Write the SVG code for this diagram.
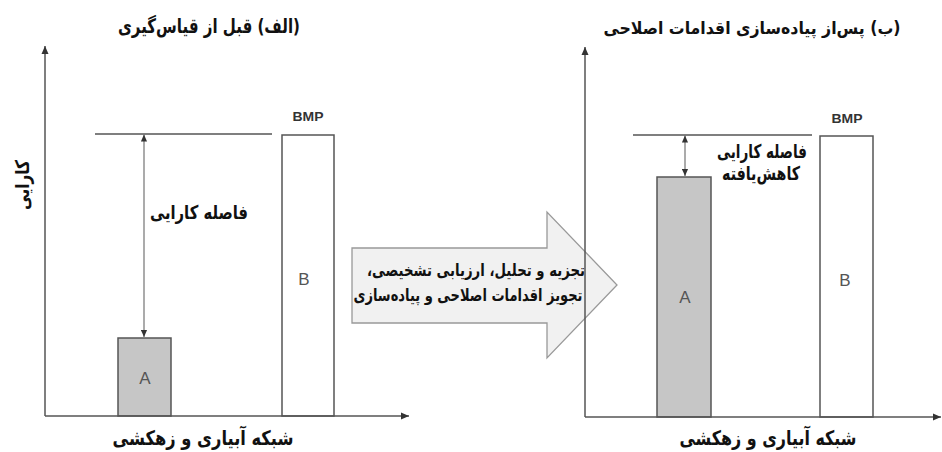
<svg xmlns="http://www.w3.org/2000/svg" width="942" height="452" viewBox="0 0 942 452">
  <style>
    .axis { stroke: #555; stroke-width: 1.5; fill: none; }
    .ref { stroke: #555; stroke-width: 1.3; fill: none; }
    .gap { stroke: #666; stroke-width: 1.1; fill: none; }
    .barA { fill: #c6c6c6; stroke: #555; stroke-width: 1.5; }
    .barB { fill: #fff; stroke: #555; stroke-width: 1.5; }
    /* Persian labels: right-to-left, anchored at their left edge */
    .fa { font-family: 'DejaVu Sans', 'Noto Sans', sans-serif; font-weight: bold; fill: #111; text-anchor: end; direction: rtl; }
    .title { font-size: 20px; }
    .lbl { font-size: 19px; }
    .bmp { font-family: 'Liberation Sans', Arial, sans-serif; font-weight: bold; font-size: 13px; fill: #333; text-anchor: middle; }
    .bar-txt { font-family: 'Liberation Sans', Arial, sans-serif; font-size: 17px; fill: #555; text-anchor: middle; }
    .step { fill: #f1f1f1; stroke: #999; stroke-width: 1.3; }
  </style>
  <defs>
    <marker id="tip" viewBox="0 0 8 8" refX="8" refY="4" markerWidth="8" markerHeight="8" markerUnits="userSpaceOnUse" orient="auto-start-reverse">
      <path d="M0,0.5 L8,4 L0,7.5 z" fill="#333"/>
    </marker>
    <marker id="tipS" viewBox="0 0 8 8" refX="8" refY="4" markerWidth="7" markerHeight="7" markerUnits="userSpaceOnUse" orient="auto-start-reverse">
      <path d="M0,0.5 L8,4 L0,7.5 z" fill="#333"/>
    </marker>
  </defs>

  <!-- panel (a): before -->
  <g id="panel-a-title">
    <text class="fa title" x="118" y="33" textLength="182" lengthAdjust="spacingAndGlyphs">(الف) قبل از قیاس‌گیری</text>
  </g>
  <g id="panel-a-ylabel">
    <text class="fa lbl" text-anchor="middle" transform="translate(29,210) rotate(-90)" textLength="50" lengthAdjust="spacingAndGlyphs">کارایی</text>
  </g>
  <g id="panel-a-xlabel">
    <text class="fa title" x="112.5" y="445" textLength="181" lengthAdjust="spacingAndGlyphs">شبکه آبیاری و زهکشی</text>
  </g>
  <g id="panel-a-bmp">
    <rect class="barB" x="282" y="135" width="52" height="281"/>
    <text class="bmp" x="308" y="121" textLength="31" lengthAdjust="spacingAndGlyphs">BMP</text>
    <text class="bar-txt" x="304" y="285">B</text>
  </g>
  <g id="panel-a-bar">
    <rect class="barA" x="118" y="338" width="53" height="78"/>
    <text class="bar-txt" x="145" y="384">A</text>
  </g>
  <g id="panel-a-gap-label">
    <text class="fa lbl" x="150" y="219" textLength="98" lengthAdjust="spacingAndGlyphs">فاصله کارایی</text>
  </g>

  <!-- panel (b): after -->
  <g id="panel-b-title">
    <text class="fa" font-size="17" x="603.5" y="34" textLength="297" lengthAdjust="spacingAndGlyphs">(ب) پس‌از پیاده‌سازی اقدامات اصلاحی</text>
  </g>
  <g id="panel-b-xlabel">
    <text class="fa title" x="679.5" y="445" textLength="177" lengthAdjust="spacingAndGlyphs">شبکه آبیاری و زهکشی</text>
  </g>
  <g id="panel-b-bmp">
    <rect class="barB" x="820" y="136" width="53" height="281"/>
    <text class="bmp" x="847" y="123" textLength="31" lengthAdjust="spacingAndGlyphs">BMP</text>
    <text class="bar-txt" x="845" y="286">B</text>
  </g>
  <g id="panel-b-bar">
    <rect class="barA" x="657" y="177" width="54" height="240"/>
    <text class="bar-txt" x="685" y="303">A</text>
  </g>
  <g id="panel-b-gap-label">
    <text class="fa lbl" x="717" y="158" textLength="90" lengthAdjust="spacingAndGlyphs">فاصله کارایی</text>
    <text class="fa lbl" x="722" y="180" textLength="78" lengthAdjust="spacingAndGlyphs">کاهش‌یافته</text>
  </g>

  <!-- process step between the panels -->
  <g id="process-step">
    <polygon class="step" points="352,248 547,248 547,212 617,285 547,358 547,323 352,323"/>
    <text class="fa" font-size="17" x="367" y="276" textLength="218" lengthAdjust="spacingAndGlyphs">تجزیه و تحلیل، ارزیابی تشخیصی،</text>
    <text class="fa" font-size="17" x="353.5" y="301" textLength="229" lengthAdjust="spacingAndGlyphs">تجویز اقدامات اصلاحی و پیاده‌سازی</text>
  </g>

  <!-- axes, reference lines and gap arrows -->
  <g id="connectors">
    <line class="axis" x1="45" y1="416" x2="45" y2="46" marker-end="url(#tip)"/>
    <line class="axis" x1="45" y1="416" x2="409" y2="416" marker-end="url(#tip)"/>
    <line class="ref" x1="95" y1="134" x2="272" y2="134"/>
    <line class="gap" x1="144" y1="134.5" x2="144" y2="337" marker-start="url(#tipS)" marker-end="url(#tipS)"/>

    <line class="axis" x1="585" y1="417" x2="585" y2="47" marker-end="url(#tip)"/>
    <line class="axis" x1="585" y1="417" x2="941" y2="417" marker-end="url(#tip)"/>
    <line class="ref" x1="633" y1="135" x2="812" y2="135"/>
    <line class="gap" x1="685" y1="135.5" x2="685" y2="176" marker-start="url(#tipS)" marker-end="url(#tipS)"/>
  </g>
</svg>
